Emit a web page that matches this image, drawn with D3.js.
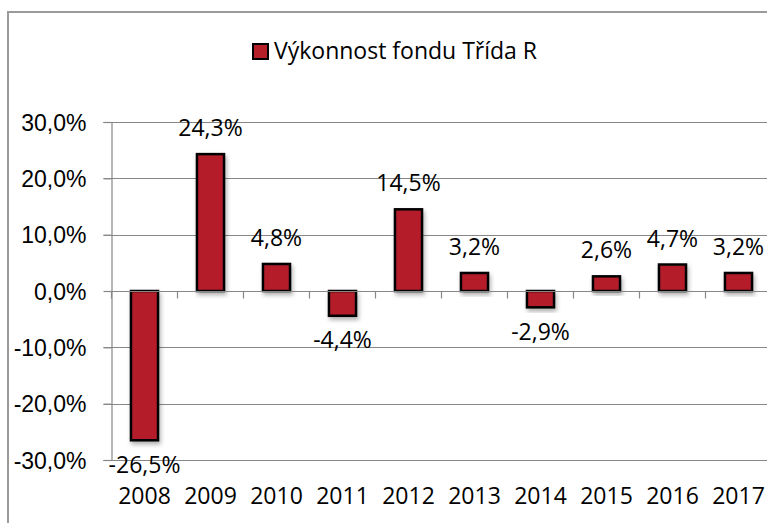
<!DOCTYPE html>
<html>
<head>
<meta charset="utf-8">
<script src="https://cdn.jsdelivr.net/npm/d3@7"></script>
<style>
  html, body { margin: 0; padding: 0; background: #fff; overflow: hidden; }
  svg { display: block; font-family: "Open Sans", Lato, sans-serif; }
</style>
</head>
<body>
<div id="chart"></div>
<script>
// chart data
const years = ['2008', '2009', '2010', '2011', '2012', '2013', '2014', '2015', '2016', '2017'];
const performance = [-26.5, 24.3, 4.8, -4.4, 14.5, 3.2, -2.9, 2.6, 4.7, 3.2];
const yTicks = [-30, -20, -10, 0, 10, 20, 30];
const seriesName = 'Výkonnost fondu Třída R';

const width = 767, height = 523;
const margin = { top: 122, left: 111.5, bottom: 63 };
const barColor = '#B41F2A';
const gridColor = '#878787';
const fontSize = '23px';

const locale = d3.formatLocale({ decimal: ',', thousands: ' ', grouping: [3], currency: ['', ''], minus: '-' });
const fmt = locale.format('.1f');

const svg = d3.select('#chart').append('svg')
    .attr('width', width)
    .attr('height', height);

// soft shadow under the bars
const defs = svg.append('defs');
defs.append('filter')
    .attr('id', 'shadow')
    .attr('x', '-30%').attr('y', '-30%').attr('width', '160%').attr('height', '160%')
  .append('feDropShadow')
    .attr('dx', 1.5).attr('dy', 3)
    .attr('stdDeviation', 2)
    .attr('flood-color', '#000')
    .attr('flood-opacity', 0.3);

// outer chart border (runs off the picture on right and bottom)
svg.append('rect')
    .attr('x', 8).attr('y', 12)
    .attr('width', 900).attr('height', 700)
    .attr('fill', 'none')
    .attr('stroke', '#9a9a9a')
    .attr('stroke-width', 2);

const x = d3.scaleBand()
    .domain(years)
    .range([margin.left, margin.left + 66 * years.length])
    .padding(0);

const y = d3.scaleLinear()
    .domain([-30, 30])
    .range([height - margin.bottom, margin.top]);

const barW = x.bandwidth() * 0.41;

// horizontal gridlines
svg.append('g')
    .selectAll('line')
    .data(yTicks.filter(d => d !== 0))
    .join('line')
    .attr('x1', margin.left - 8)
    .attr('x2', width + 10)
    .attr('y1', d => Math.round(y(d)) + 0.5)
    .attr('y2', d => Math.round(y(d)) + 0.5)
    .attr('stroke', gridColor)
    .attr('stroke-width', 1.2);

// value axis
const yAxis = svg.append('g')
    .attr('transform', `translate(${margin.left},0)`)
    .call(d3.axisLeft(y).tickValues(yTicks).tickSize(8).tickPadding(17)
        .tickFormat(d => fmt(d) + '%'));
yAxis.select('.domain').attr('stroke', gridColor).attr('stroke-width', 1.2);
yAxis.selectAll('.tick line').attr('stroke', gridColor).attr('stroke-width', 1.2);
yAxis.selectAll('.tick text')
    .attr('fill', '#000')
    .style('font-size', fontSize)
    .attr('dy', '0.36em');

// bars
svg.append('g')
    .selectAll('rect')
    .data(years.map((yr, i) => ({ year: yr, value: performance[i] })))
    .join('rect')
    .attr('x', d => x(d.year) + (x.bandwidth() - barW) / 2)
    .attr('y', d => y(Math.max(0, d.value)))
    .attr('width', barW)
    .attr('height', d => Math.abs(y(d.value) - y(0)))
    .attr('fill', barColor)
    .attr('stroke', '#000')
    .attr('stroke-width', 2.5)
    .attr('filter', 'url(#shadow)');

// category axis on the zero line
const xAxis = svg.append('g')
    .attr('transform', `translate(0,${Math.round(y(0)) + 0.5})`);
xAxis.append('line')
    .attr('x1', margin.left).attr('x2', width + 10)
    .attr('stroke', gridColor).attr('stroke-width', 1.2);
xAxis.selectAll('.cat-tick')
    .data(years.concat(['end']))
    .join('line')
    .attr('class', 'cat-tick')
    .attr('x1', (d, i) => margin.left + i * x.step())
    .attr('x2', (d, i) => margin.left + i * x.step())
    .attr('y1', 0).attr('y2', 7)
    .attr('stroke', gridColor).attr('stroke-width', 1.2);

// year labels at the bottom
svg.append('g')
    .selectAll('text')
    .data(years)
    .join('text')
    .attr('x', d => x(d) + x.bandwidth() / 2)
    .attr('y', 503.5)
    .attr('text-anchor', 'middle')
    .style('font-size', fontSize)
    .text(d => d);

// data labels
svg.append('g')
    .selectAll('text')
    .data(years.map((yr, i) => ({ year: yr, value: performance[i] })))
    .join('text')
    .attr('x', d => x(d.year) + x.bandwidth() / 2)
    .attr('y', d => d.value >= 0 ? y(d.value) - 18 : y(d.value) + 32.5)
    .attr('text-anchor', 'middle')
    .style('font-size', fontSize)
    .text(d => fmt(d.value) + '%');

// legend
const legend = svg.append('g');
legend.append('rect')
    .attr('x', 253).attr('y', 44)
    .attr('width', 15).attr('height', 15)
    .attr('fill', barColor)
    .attr('stroke', '#000')
    .attr('stroke-width', 2);
legend.append('text')
    .attr('x', 274).attr('y', 59)
    .style('font-size', fontSize)
    .text(seriesName);
</script>
</body>
</html>
